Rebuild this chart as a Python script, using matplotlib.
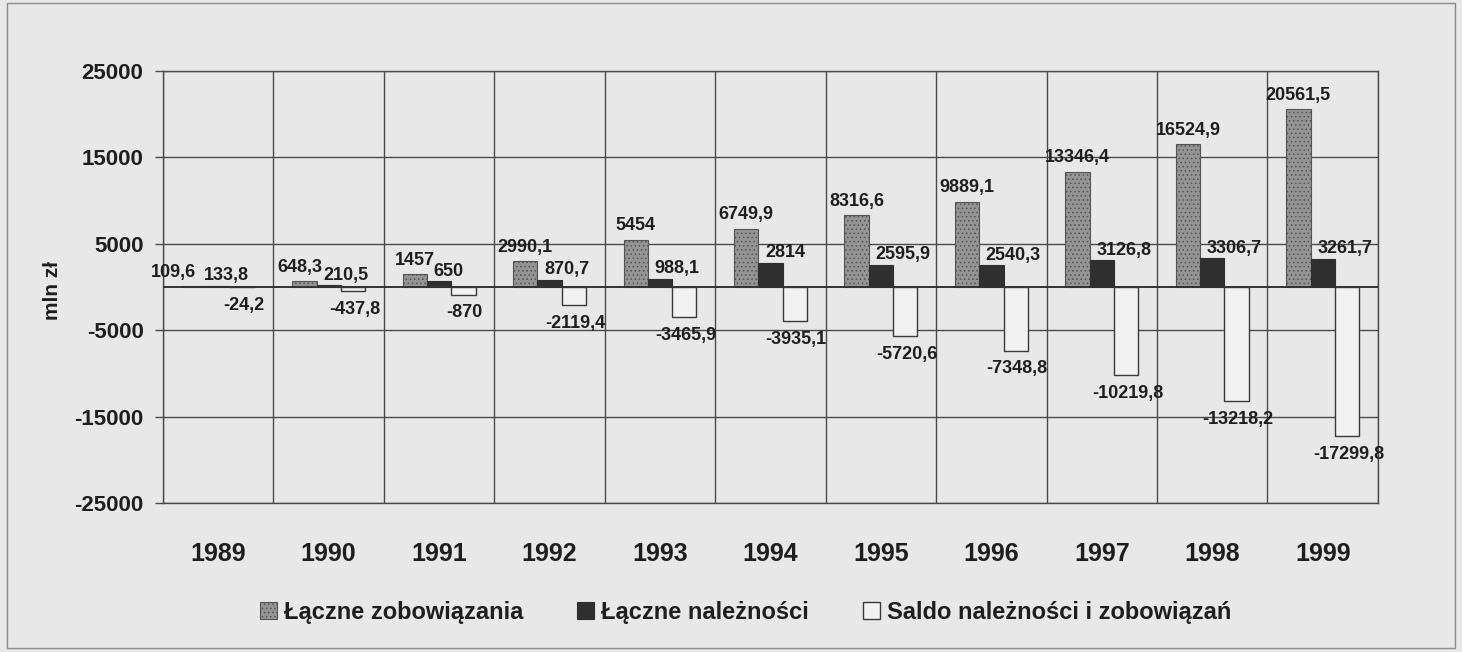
import matplotlib.pyplot as plt
from matplotlib.patches import Rectangle
import numpy as np

lata = ['1989', '1990', '1991', '1992', '1993', '1994', '1995', '1996', '1997', '1998', '1999']
zobowiazania = [109.6, 648.3, 1457, 2990.1, 5454, 6749.9, 8316.6, 9889.1, 13346.4, 16524.9, 20561.5]
naleznosci = [133.8, 210.5, 650, 870.7, 988.1, 2814, 2595.9, 2540.3, 3126.8, 3306.7, 3261.7]
saldo = [-24.2, -437.8, -870, -2119.4, -3465.9, -3935.1, -5720.6, -7348.8, -10219.8, -13218.2, -17299.8]
y_ticks = [25000, 15000, 5000, -5000, -15000, -25000]

plt.rcParams['font.family'] = ['Liberation Sans', 'DejaVu Sans']
plt.rcParams['font.weight'] = 'bold'
plt.rcParams['hatch.linewidth'] = 0.6

bg = '#e8e8e8'
grid_c = '#4a4a4a'
txt_c = '#1e1e1e'

fig = plt.figure(figsize=(14.62, 6.52), dpi=100, facecolor=bg)
ax = fig.add_axes([0.1115, 0.2285, 0.831, 0.6625])
ax.set_facecolor(bg)

fmt = lambda v: ('%g' % v).replace('.', ',')

x = np.arange(len(lata))
w = 0.22
b1 = ax.bar(x - w, zobowiazania, w, color='#949494', edgecolor='#555555', hatch='....', linewidth=0.8, zorder=3,
            label='Łączne zobowiązania')
b2 = ax.bar(x, naleznosci, w, color='#2f2f2f', edgecolor='#2f2f2f', linewidth=0.8, zorder=3,
            label='Łączne należności')
b3 = ax.bar(x + w, saldo, w, color='#f2f2f2', edgecolor='#3a3a3a', linewidth=1.0, zorder=3,
            label='Saldo należności i zobowiązań')

for i in range(len(lata)):
    # first group: bars are tiny, so labels are pushed apart
    dz = -15 if i == 0 else (-3 if i == 1 else 0)
    dn = -10 if i == 0 else -4
    ax.annotate(fmt(zobowiazania[i]), (x[i] - w, zobowiazania[i]), xytext=(dz, 4), textcoords='offset points',
                ha='center', va='bottom', fontsize=13, color=txt_c, zorder=5)
    ax.annotate(fmt(naleznosci[i]), (x[i], naleznosci[i]), xytext=(dn, 1), textcoords='offset points',
                ha='left', va='bottom', fontsize=13, color=txt_c, zorder=5)
    ax.annotate(fmt(saldo[i]), (x[i] + w, saldo[i]), xytext=(1, -7), textcoords='offset points',
                ha='center', va='top', fontsize=13, color=txt_c, zorder=5)

ax.set_xlim(-0.5, len(lata) - 0.5)
ax.set_ylim(-25000, 25000)
ax.set_yticks(y_ticks)
ax.set_yticklabels([str(t) for t in y_ticks], fontsize=16)
ax.set_xticks(x)
ax.set_xticklabels(lata, fontsize=18)
ax.tick_params(axis='x', length=0, pad=28, colors=txt_c)
ax.tick_params(axis='y', length=6, width=1, color=grid_c, colors=txt_c, pad=8)

for t in y_ticks:
    ax.axhline(t, color=grid_c, lw=1.0, zorder=1)
for k in range(len(lata) + 1):
    ax.axvline(k - 0.5, color=grid_c, lw=1.0, zorder=1)
ax.axhline(0, color='#333333', lw=1.4, zorder=4)
for s in ax.spines.values():
    s.set_color(grid_c)
    s.set_linewidth(1.0)

fig.text(0.036, 0.555, 'mln zł', rotation=90, ha='center', va='center', fontsize=15, color=txt_c)

leg = fig.legend(handles=[b1, b2, b3], loc='center', bbox_to_anchor=(0.51, 0.061), ncol=3, frameon=False,
                 fontsize=17, handlelength=0.7, handleheight=0.7, handletextpad=0.3, columnspacing=2.3)
for t in leg.get_texts():
    t.set_color(txt_c)

fig.patches.append(Rectangle((0.005, 0.006), 0.99, 0.99, transform=fig.transFigure, fill=False,
                             edgecolor='#8a8a8a', lw=1.0))

fig.savefig('out.png', dpi=100, facecolor=bg)
